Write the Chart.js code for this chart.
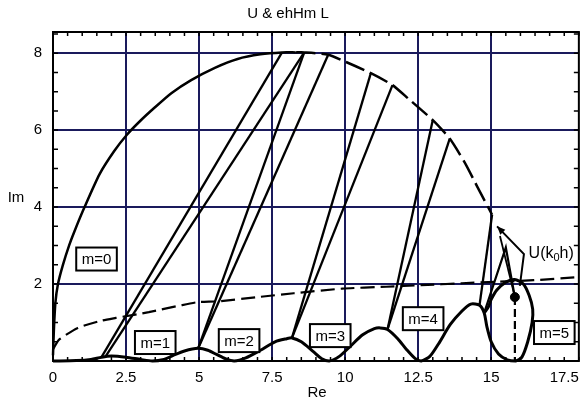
<!DOCTYPE html>
<html>
<head>
<meta charset="utf-8">
<script src="https://cdn.jsdelivr.net/npm/chart.js@4.4.0/dist/chart.umd.min.js"></script>
<style>
  html, body { margin: 0; padding: 0; background: #fff; }
  canvas { display: block; }
</style>
</head>
<body>
<canvas id="chart" width="587" height="403"></canvas>
<script>
// axis ticks
const xTicks = [0, 2.5, 5, 7.5, 10, 12.5, 15, 17.5];
const xGrid = [2.5, 5, 7.5, 10, 12.5, 15];
const yTicks = [2, 4, 6, 8];

// outer curve, solid part
const outerX = [0.0, 0.03, 0.08, 0.17, 0.34, 0.55, 0.74, 1.08, 1.59, 2.09, 2.53, 3.0, 3.5, 4.05, 4.73, 5.54, 6.32, 7.1, 7.84, 8.3];
const outerY = [0.15, 0.8, 1.5, 2.0, 2.5, 3.0, 3.38, 4.0, 4.85, 5.45, 5.88, 6.25, 6.6, 6.96, 7.3, 7.62, 7.85, 7.97, 8.02, 8.02];
// outer curve, dashed part
const outerDashX = [8.3, 8.6, 9.42, 10.03, 10.88, 11.62, 12.16, 13.0, 13.58, 14.09, 14.53, 15.03];
const outerDashY = [8.02, 8.02, 7.96, 7.77, 7.48, 7.17, 6.82, 6.26, 5.78, 5.16, 4.52, 3.8];

// lower oscillating curve with the loop at m=5
const lowX = [0, 0.8, 1.3, 1.66, 2.0, 2.5, 3.0, 3.4, 3.8, 4.1, 4.5, 4.97, 5.3, 5.6, 5.9, 6.2, 6.6, 7.1, 7.6, 8.0, 8.18, 8.5, 8.9, 9.2, 9.45, 9.8, 10.2, 10.6, 11.0, 11.2, 11.45, 11.8, 12.1, 12.4, 12.6, 12.9, 13.2, 13.6, 14.0, 14.3, 14.6, 14.76, 14.85, 15.0, 15.25, 15.55, 15.84, 16.05, 16.25, 16.4, 16.42, 16.3, 16.1, 15.8, 15.5, 15.2, 15.0, 14.9, 14.76];
const lowY = [0, 0.01, 0.04, 0.1, 0.13, 0.1, 0.04, 0.0, 0.04, 0.14, 0.26, 0.33, 0.28, 0.17, 0.06, 0.0, 0.08, 0.28, 0.5, 0.58, 0.6, 0.5, 0.25, 0.06, 0.0, 0.12, 0.4, 0.68, 0.84, 0.86, 0.82, 0.58, 0.3, 0.06, 0.0, 0.12, 0.45, 0.95, 1.3, 1.48, 1.45, 1.25, 0.9, 0.5, 0.18, 0.03, 0.0, 0.1, 0.5, 1.0, 1.35, 1.7, 2.0, 2.12, 2.05, 1.85, 1.6, 1.4, 1.25];

// lower dashed curve
const dashX = [0, 0.2, 0.85, 1.66, 2.15, 3.28, 4.4, 4.97, 5.64, 7.0, 8.24, 9.9, 11.4, 12.6, 14.0, 14.9, 16.45, 18];
const dashY = [0.3, 0.55, 0.86, 1.05, 1.12, 1.27, 1.45, 1.53, 1.55, 1.66, 1.76, 1.88, 1.93, 1.97, 2.02, 2.05, 2.1, 2.18];

// straight chords between the curves
const chordFromX = [1.66, 1.8, 4.97, 4.97, 8.18, 8.18, 11.45, 11.45, 14.6];
const chordFromY = [0.1, 0.12, 0.33, 0.33, 0.6, 0.6, 0.82, 0.82, 1.45];
const chordToX = [7.84, 8.6, 8.6, 9.42, 10.88, 11.62, 13.0, 13.58, 15.03];
const chordToY = [8.02, 8.02, 8.02, 7.96, 7.48, 7.17, 6.26, 5.78, 3.8];

// lines around U(k0h)
const vLineX = [14.76, 15.5, 15.81];
const vLineY = [1.25, 2.95, 1.66];
const calloutX = [15.2, 16.12, 15.98];
const calloutY = [3.5, 2.78, 1.95];
const innerX = [15.3, 15.81];
const innerY = [3.25, 1.66];
const stemX = [15.81, 15.81];
const stemY = [1.66, 0];
const dotX = [15.81];
const dotY = [1.66];

// boxed labels
const labelText = ['m=0', 'm=1', 'm=2', 'm=3', 'm=4', 'm=5'];
const labelX = [1.49, 3.5, 6.37, 9.49, 12.67, 17.16];
const labelY = [2.65, 0.48, 0.53, 0.66, 1.1, 0.74];

const FONT = '"Liberation Sans", Arial, Helvetica, sans-serif';
const NAVY = '#1a1a5c';

function zip(xs, ys) {
  return xs.map((x, i) => ({ x: x, y: ys[i] }));
}

function line(xs, ys, width, dash, tension) {
  return {
    data: zip(xs, ys),
    showLine: true,
    borderColor: '#000',
    backgroundColor: '#000',
    borderWidth: width,
    borderDash: dash || [],
    pointRadius: 0,
    tension: tension || 0,
    fill: false,
    clip: 4
  };
}

var datasets = [
  line(outerX, outerY, 2.5, null, 0.2),
  line(outerDashX, outerDashY, 2.5, [20, 6], 0.2),
  line(dashX, dashY, 2.2, [14, 6], 0.2),
  line(lowX, lowY, 3, null, 0.25)
];
for (let i = 0; i < chordFromX.length; i++) {
  datasets.push(line([chordFromX[i], chordToX[i]], [chordFromY[i], chordToY[i]], 2.3));
}
datasets.push(line(vLineX, vLineY, 2.2));
datasets.push(line(calloutX, calloutY, 2));
datasets.push(line(innerX, innerY, 1.8));
datasets.push(line(stemX, stemY, 2.2, [8, 4]));
datasets.push({
  data: zip(dotX, dotY),
  showLine: false,
  pointRadius: 4.5,
  pointBackgroundColor: '#000',
  pointBorderColor: '#000'
});

const decor = {
  id: 'decor',
  afterDatasetsDraw(chart) {
    const ctx = chart.ctx;
    const a = chart.chartArea;
    const x = chart.scales.x, y = chart.scales.y;
    ctx.save();

    // arrowhead at the start of the callout
    const ax = x.getPixelForValue(calloutX[0]), ay = y.getPixelForValue(calloutY[0]);
    const bx = x.getPixelForValue(calloutX[1]), by = y.getPixelForValue(calloutY[1]);
    const ang = Math.atan2(ay - by, ax - bx);
    ctx.fillStyle = '#000';
    ctx.beginPath();
    ctx.moveTo(ax, ay);
    ctx.lineTo(ax - 9 * Math.cos(ang - 0.4), ay - 9 * Math.sin(ang - 0.4));
    ctx.lineTo(ax - 9 * Math.cos(ang + 0.4), ay - 9 * Math.sin(ang + 0.4));
    ctx.closePath();
    ctx.fill();

    // boxed m labels
    ctx.font = '15px ' + FONT;
    ctx.textAlign = 'center';
    ctx.textBaseline = 'middle';
    labelText.forEach(function (t, i) {
      const px = x.getPixelForValue(labelX[i]), py = y.getPixelForValue(labelY[i]);
      const w = ctx.measureText(t).width + 11, h = 23;
      ctx.fillStyle = '#fff';
      ctx.fillRect(px - w / 2, py - h / 2, w, h);
      ctx.lineWidth = 2;
      ctx.strokeStyle = '#000';
      ctx.strokeRect(px - w / 2, py - h / 2, w, h);
      ctx.fillStyle = '#000';
      ctx.fillText(t, px, py + 1);
    });

    // U(k0h)
    let ux = x.getPixelForValue(16.28), uy = y.getPixelForValue(2.8);
    ctx.textAlign = 'left';
    ctx.font = '16px ' + FONT;
    ctx.fillText('U(k', ux, uy);
    ux += ctx.measureText('U(k').width;
    ctx.font = '11px ' + FONT;
    ctx.fillText('0', ux, uy + 5);
    ux += ctx.measureText('0').width;
    ctx.font = '16px ' + FONT;
    ctx.fillText('h)', ux, uy);

    // frame with inward ticks
    ctx.strokeStyle = '#000';
    ctx.lineWidth = 2;
    ctx.strokeRect(a.left, a.top, a.right - a.left, a.bottom - a.top);
    ctx.lineWidth = 1.5;
    ctx.beginPath();
    for (let v = 0; v <= 18.001; v += 0.5) {
      const px = x.getPixelForValue(v);
      ctx.moveTo(px, a.top); ctx.lineTo(px, a.top + 4);
      ctx.moveTo(px, a.bottom); ctx.lineTo(px, a.bottom - 4);
    }
    for (let v = 0; v <= 8.5; v += 0.5) {
      const py = y.getPixelForValue(v);
      ctx.moveTo(a.left, py); ctx.lineTo(a.left + 5, py);
      ctx.moveTo(a.right, py); ctx.lineTo(a.right - 5, py);
    }
    ctx.stroke();
    ctx.restore();
  },
  afterDraw(chart) {
    const ctx = chart.ctx;
    ctx.save();
    ctx.fillStyle = '#000';
    ctx.textAlign = 'center';
    ctx.textBaseline = 'middle';
    ctx.font = '15px ' + FONT;
    ctx.fillText('U & ehHm L', 288, 14);
    ctx.fillText('Im', 16, 198);
    ctx.fillText('Re', 317, 393);
    ctx.restore();
  }
};

new Chart(document.getElementById('chart'), {
  type: 'scatter',
  data: { datasets: datasets },
  options: {
    responsive: false,
    animation: false,
    devicePixelRatio: 1,
    layout: { padding: { top: 32, right: 2, left: 0, bottom: 0 } },
    plugins: { legend: { display: false }, tooltip: { enabled: false } },
    scales: {
      x: {
        type: 'linear',
        min: 0,
        max: 18,
        afterBuildTicks: function (s) { s.ticks = xTicks.map(v => ({ value: v })); },
        afterFit: function (s) { s.height = 42; },
        border: { display: false },
        grid: {
          drawTicks: false,
          lineWidth: 2,
          color: function (c) { return xGrid.indexOf(c.tick && c.tick.value) >= 0 ? NAVY : 'rgba(0,0,0,0)'; }
        },
        ticks: {
          color: '#000',
          font: { family: FONT, size: 15 },
          padding: 8,
          maxRotation: 0,
          callback: function (v) { return String(v); }
        }
      },
      y: {
        type: 'linear',
        min: 0,
        max: 8.55,
        afterBuildTicks: function (s) { s.ticks = yTicks.map(v => ({ value: v })); },
        afterFit: function (s) { s.width = 53; },
        border: { display: false },
        grid: {
          drawTicks: false,
          lineWidth: 2,
          color: NAVY
        },
        ticks: {
          color: '#000',
          font: { family: FONT, size: 15 },
          padding: 11,
          callback: function (v) { return String(v); }
        }
      }
    }
  },
  plugins: [decor]
});
</script>
</body>
</html>
